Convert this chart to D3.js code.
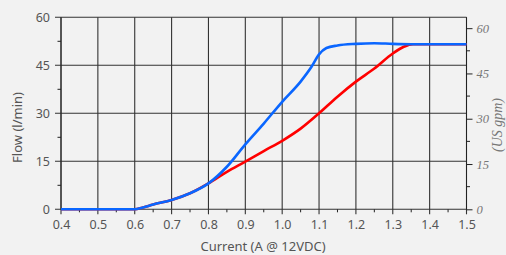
<!DOCTYPE html>
<html>
<head>
<meta charset="utf-8">
<script src="https://cdn.jsdelivr.net/npm/d3@7"></script>
<style>
  html, body { margin: 0; padding: 0; background: #f2f2f2; overflow: hidden; }
  svg { display: block; }
  .tick text { font-family: "Noto Sans", sans-serif; font-size: 12.5px; fill: #555; }
  .right .tick text { font-family: "Liberation Serif", serif; font-style: italic; font-size: 12.5px; fill: #777; }
</style>
</head>
<body>
<div id="chart"></div>
<script>
// chart values
const xTicks = [0.4, 0.5, 0.6, 0.7, 0.8, 0.9, 1.0, 1.1, 1.2, 1.3, 1.4, 1.5];
const yTicks = [0, 15, 30, 45, 60];
const gpmTicks = [0, 15, 30, 45, 60];

const blueCurrent = [0.4, 0.5, 0.6, 0.62, 0.65, 0.7, 0.75, 0.8, 0.85, 0.9, 0.95, 1.0, 1.05, 1.08, 1.1, 1.12, 1.15, 1.2, 1.25, 1.3, 1.35, 1.5];
const blueFlow    = [0, 0, 0, 0.5, 1.5, 2.9, 5, 8.1, 13.3, 20.3, 26.8, 33.6, 39.9, 44.6, 48.4, 50.4, 51.2, 51.7, 51.9, 51.7, 51.6, 51.6];

const redCurrent = [0.4, 0.5, 0.6, 0.62, 0.65, 0.7, 0.75, 0.8, 0.85, 0.9, 0.95, 1.0, 1.05, 1.1, 1.15, 1.2, 1.25, 1.3, 1.33, 1.355, 1.4, 1.5];
const redFlow    = [0, 0, 0, 0.5, 1.5, 2.9, 5, 8.1, 11.7, 14.9, 18.2, 21.4, 25.2, 30, 35.2, 39.9, 44, 48.7, 50.8, 51.6, 51.6, 51.6];

// dimensions
let width = 506, height = 255;
let margin = { left: 61, right: 39.5, top: 17.3, bottom: 45.7 };

let svg = d3.select("#chart").append("svg")
  .attr("width", width)
  .attr("height", height);

let x = d3.scaleLinear().domain([0.4, 1.5]).range([margin.left, width - margin.right]);
let y = d3.scaleLinear().domain([0, 60]).range([height - margin.bottom, margin.top]);
let y2 = d3.scaleLinear().domain([0, 63.6]).range([height - margin.bottom, margin.top]);

let x0 = margin.left, x1 = width - margin.right;
let yb = height - margin.bottom, yt = margin.top;

// grid: vertical lines at every 0.1 (extend below axis as major ticks)
svg.append("g").selectAll("line")
  .data(xTicks)
  .join("line")
  .attr("x1", d => x(d)).attr("x2", d => x(d))
  .attr("y1", yt).attr("y2", yb + 5)
  .attr("stroke", "#333").attr("stroke-width", 1.1);

// horizontal grid
svg.append("g").selectAll("line")
  .data(yTicks)
  .join("line")
  .attr("x1", x0 - 6).attr("x2", x1)
  .attr("y1", d => y(d)).attr("y2", d => y(d))
  .attr("stroke", "#333").attr("stroke-width", 1.1);

// left minor ticks
svg.append("g").selectAll("line")
  .data([7.5, 22.5, 37.5, 52.5])
  .join("line")
  .attr("x1", x0 - 3.5).attr("x2", x0)
  .attr("y1", d => y(d)).attr("y2", d => y(d))
  .attr("stroke", "#222");

// bottom minor ticks
svg.append("g").selectAll("line")
  .data(d3.range(0.45, 1.5, 0.1))
  .join("line")
  .attr("x1", d => x(d)).attr("x2", d => x(d))
  .attr("y1", yb).attr("y2", yb + 3)
  .attr("stroke", "#222");

// axis lines
svg.append("line").attr("x1", x0).attr("x2", x0).attr("y1", yt).attr("y2", yb).attr("stroke", "#222");
svg.append("line").attr("x1", x1).attr("x2", x1).attr("y1", yt).attr("y2", yb).attr("stroke", "#222");

// left tick labels
let left = svg.append("g")
  .attr("transform", "translate(" + x0 + ",0)")
  .call(d3.axisLeft(y).tickValues(yTicks).tickSize(0).tickPadding(11));
left.select(".domain").remove();

// bottom tick labels
let bottom = svg.append("g")
  .attr("transform", "translate(0," + yb + ")")
  .call(d3.axisBottom(x).tickValues(xTicks).tickFormat(d3.format(".1f")).tickSize(0).tickPadding(11));
bottom.select(".domain").remove();

// right axis (US gpm)
let right = svg.append("g")
  .attr("class", "right")
  .attr("transform", "translate(" + x1 + ",0)")
  .call(d3.axisRight(y2).tickValues(gpmTicks).tickSize(6).tickPadding(4));
right.select(".domain").remove();
right.selectAll("line").attr("stroke", "#222");
svg.append("g").selectAll("line")
  .data([7.5, 22.5, 37.5, 52.5])
  .join("line")
  .attr("x1", x1).attr("x2", x1 + 3.5)
  .attr("y1", d => y2(d)).attr("y2", d => y2(d))
  .attr("stroke", "#222");

// curves
let line = d3.line()
  .x(d => x(d[0]))
  .y(d => y(d[1]))
  .curve(d3.curveMonotoneX);

svg.append("path")
  .datum(d3.zip(redCurrent, redFlow))
  .attr("d", line)
  .attr("fill", "none")
  .attr("stroke", "#ff0000")
  .attr("stroke-width", 2.6);

svg.append("path")
  .datum(d3.zip(blueCurrent, blueFlow))
  .attr("d", line)
  .attr("fill", "none")
  .attr("stroke", "#0a66ff")
  .attr("stroke-width", 2.6);

// axis titles
svg.append("text")
  .attr("transform", "translate(22,127.5) rotate(-90)")
  .attr("text-anchor", "middle")
  .style("font-family", "Noto Sans, sans-serif")
  .style("font-size", "13px")
  .style("fill", "#555")
  .text("Flow (l/min)");

svg.append("text")
  .attr("x", 263).attr("y", 251)
  .attr("text-anchor", "middle")
  .style("font-family", "Noto Sans, sans-serif")
  .style("font-size", "13px")
  .style("fill", "#555")
  .text("Current (A @ 12VDC)");

svg.append("text")
  .attr("transform", "translate(502,125) rotate(-90)")
  .attr("text-anchor", "middle")
  .style("font-family", "Liberation Serif, serif")
  .style("font-style", "italic")
  .style("font-size", "14px")
  .style("fill", "#777")
  .text("(US gpm)");
</script>
</body>
</html>
